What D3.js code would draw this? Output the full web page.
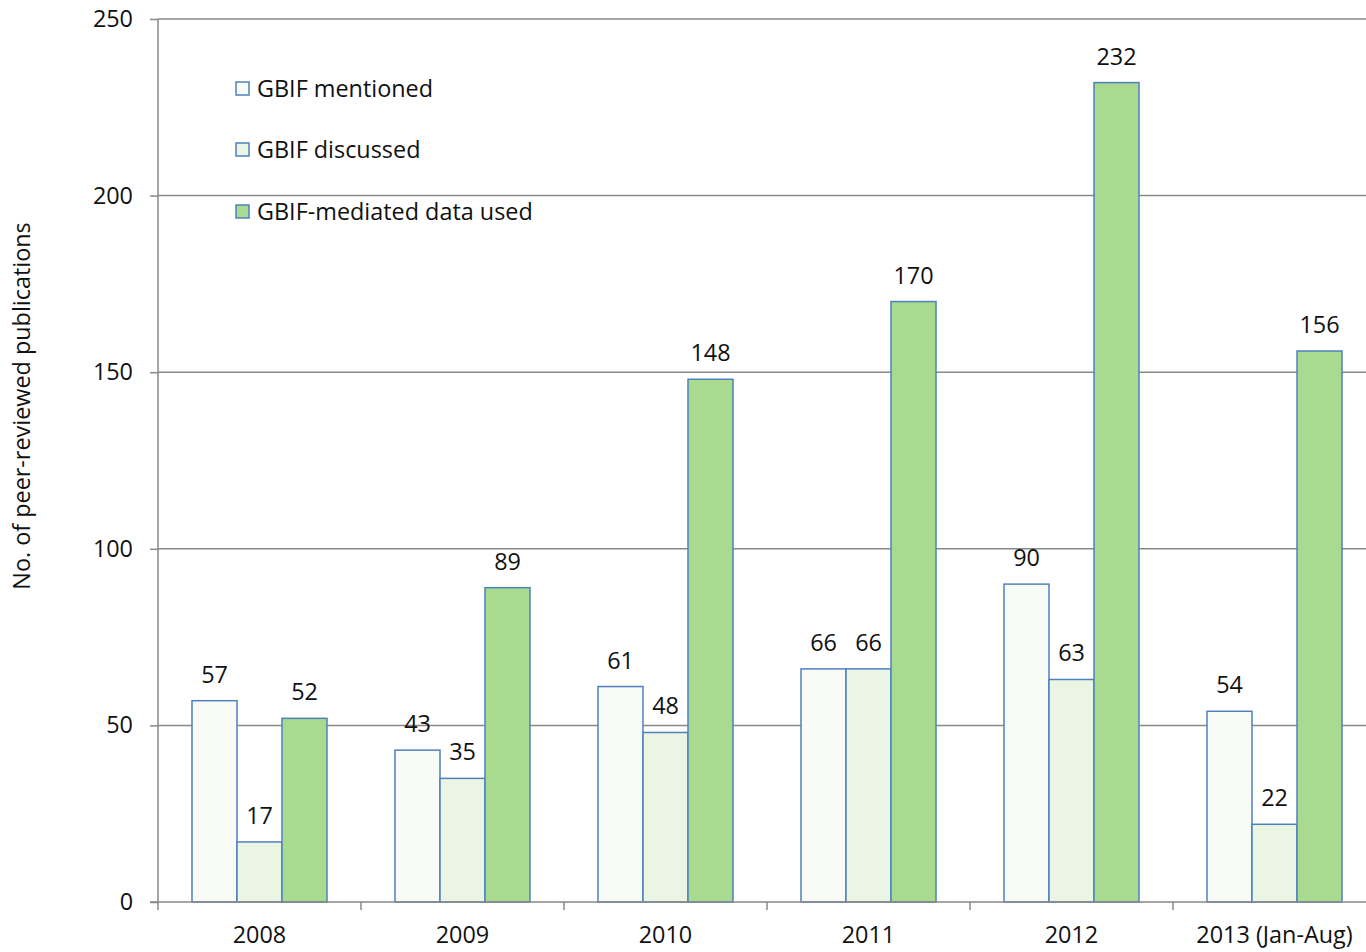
<!DOCTYPE html>
<html><head><meta charset="utf-8">
<script src="https://cdn.jsdelivr.net/npm/d3@7"></script>
<style>body{margin:0;background:#fff;}svg{display:block;font-family:"Open Sans","Noto Sans",sans-serif;}</style>
</head><body>
<svg id="c" width="1366" height="952"></svg>
<script>
const categories = ["2008","2009","2010","2011","2012","2013 (Jan-Aug)"];
const seriesNames = ["GBIF mentioned","GBIF discussed","GBIF-mediated data used"];
const mentioned = [57,43,61,66,90,54];
const discussed = [17,35,48,66,63,22];
const dataUsed = [52,89,148,170,232,156];
const yTicks = [0,50,100,150,200,250];
const seriesValues = [mentioned, discussed, dataUsed];
const fills = ["#F9FBF7","#EAF5E3","#A8DA8F"];

(function(){
const FS = 23.4;
const svg = d3.select("#c");
const pLeft = 158, pTop = 19, pBottom = 902, pRight = 1376;
const x = d3.scaleBand().domain(categories).range([pLeft, pRight]);
const y = d3.scaleLinear().domain([0,250]).range([pBottom, pTop]);

svg.append("g").selectAll("line").data(yTicks.slice(1)).join("line")
  .attr("x1", pLeft).attr("x2", 1366).attr("y1", d=>y(d)).attr("y2", d=>y(d))
  .attr("stroke","#888").attr("stroke-width",1.5);

const groupPad = 34;
const bw = (x.bandwidth() - 2*groupPad)/3;

const g = svg.append("g");
seriesValues.forEach((vals, si) => {
  g.selectAll(".b"+si).data(vals).join("rect").attr("class","b"+si)
    .attr("x", (d,i)=> x(categories[i]) + groupPad + si*bw)
    .attr("y", d=>y(d)).attr("width", bw).attr("height", d=>y(0)-y(d))
    .attr("fill", fills[si]).attr("stroke","#4F81BD").attr("stroke-width",1.5);
  g.selectAll(".l"+si).data(vals).join("text").attr("class","l"+si)
    .attr("x", (d,i)=> x(categories[i]) + groupPad + si*bw + bw/2)
    .attr("y", d=>y(d)-18).attr("text-anchor","middle")
    .attr("font-size",FS).attr("fill","#111").text(d=>d);
});

const ya = d3.axisLeft(y).tickValues(yTicks).tickSize(8).tickPadding(17);
const yg = svg.append("g").attr("transform",`translate(${pLeft},0)`).call(ya);
yg.select(".domain").attr("stroke","#888").attr("stroke-width",1.5).attr("d",`M0,${pTop}V${pBottom}`);
yg.selectAll(".tick line").attr("stroke","#888").attr("stroke-width",1.5);
yg.selectAll(".tick text").attr("font-size",FS).attr("fill","#111").attr("font-family","Open Sans");

const xa = d3.axisBottom(x).tickSize(0).tickPadding(24);
const xg = svg.append("g").attr("transform",`translate(0,${pBottom})`).call(xa);
xg.select(".domain").attr("stroke","#888").attr("stroke-width",1.5).attr("d",`M${pLeft-8},0H1366`);
xg.selectAll(".tick text").attr("font-size",FS).attr("fill","#111").attr("font-family","Open Sans");
svg.append("g").selectAll("line").data(categories).join("line")
  .attr("x1", d=>x(d)).attr("x2", d=>x(d)).attr("y1", pBottom).attr("y2", pBottom+8)
  .attr("stroke","#888").attr("stroke-width",1.5);

svg.append("text").attr("transform","translate(30,406) rotate(-90)")
  .attr("text-anchor","middle").attr("font-size",FS).attr("fill","#111")
  .text("No. of peer-reviewed publications");

const legY = [89,150,212];
const lg = svg.append("g");
seriesNames.forEach((n,i)=>{
  lg.append("rect").attr("x",236).attr("y",legY[i]-7).attr("width",13).attr("height",13)
    .attr("fill",fills[i]).attr("stroke","#4F81BD").attr("stroke-width",1.5);
  lg.append("text").attr("x",257).attr("y",legY[i]+8).attr("font-size",FS).attr("fill","#111").text(n);
});
})();
</script>
</body></html>
